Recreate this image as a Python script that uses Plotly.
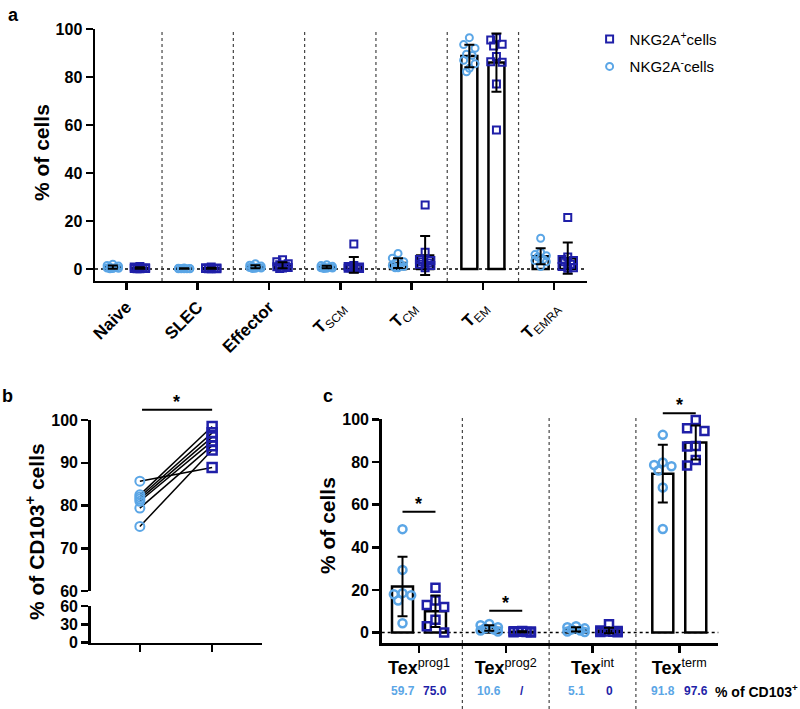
import numpy as np
import plotly.graph_objects as go

FONT = "Arial, Liberation Sans, sans-serif"
LIGHT = "#5ba6e6"
DARK = "#1f1fa8"

# ---------------- Panel a data ----------------
categories_a = ["Naive", "SLEC", "Effector", "TSCM", "TCM", "TEM", "TEMRA"]
ticktext_a = ["<b>Naive</b>", "<b>SLEC</b>", "<b>Effector</b>",
              "<b>T</b><sub>SCM</sub>", "<b>T</b><sub>CM</sub>",
              "<b>T</b><sub>EM</sub>", "<b>T</b><sub>EMRA</sub>"]
neg_naive = [2.0, 1.5, 1.2, 0.8, 0.6, 0.4, 0.3, 0.2, 0.1]
pos_naive = [1.0, 0.8, 0.5, 0.4, 0.3, 0.2, 0.2, 0.1, 0.1]
neg_slec = [0.4, 0.3, 0.2, 0.2, 0.1, 0.1, 0.1, 0.05, 0.05]
pos_slec = [0.8, 0.5, 0.4, 0.3, 0.2, 0.2, 0.1, 0.1, 0.05]
neg_effector = [2.2, 1.6, 1.2, 1.0, 0.8, 0.6, 0.4, 0.3, 0.2]
pos_effector = [3.8, 3.0, 2.2, 1.8, 1.2, 0.9, 0.6, 0.4, 0.2]
neg_tscm = [1.8, 1.4, 1.1, 0.9, 0.7, 0.5, 0.4, 0.3, 0.2]
pos_tscm = [10.4, 1.5, 1.0, 0.8, 0.5, 0.4, 0.3, 0.2, 0.1]
neg_tcm = [6.5, 4.5, 3.0, 2.5, 2.0, 1.5, 1.0, 0.5, 0.5]
pos_tcm = [26.7, 7.0, 4.0, 3.5, 3.0, 2.5, 2.0, 1.5, 0.5]
neg_tem = [96.4, 93.5, 92.0, 89.5, 89.0, 87.0, 85.5, 83.6, 82.2]
pos_tem = [96.4, 95.4, 93.6, 92.9, 88.5, 86.4, 86.1, 77.1, 57.9]
neg_temra = [12.8, 7.0, 6.0, 5.5, 5.0, 4.0, 3.5, 3.0, 1.0]
pos_temra = [21.4, 5.0, 4.0, 3.5, 3.0, 2.0, 1.0, 0.5, 0.3]
neg_a = [neg_naive, neg_slec, neg_effector, neg_tscm, neg_tcm, neg_tem, neg_temra]
pos_a = [pos_naive, pos_slec, pos_effector, pos_tscm, pos_tcm, pos_tem, pos_temra]

# ---------------- Panel b data ----------------
cd103_neg = [85.7, 82.5, 82.0, 81.5, 81.0, 79.4, 75.1]
cd103_pos = [88.9, 98.5, 97.0, 96.0, 95.0, 94.0, 93.0]

# ---------------- Panel c data ----------------
categories_c = ["prog1", "prog2", "int", "term"]
neg_prog1 = [48.5, 29.4, 18.5, 18.0, 17.5, 15.0, 4.4]
pos_prog1 = [21.0, 15.0, 13.0, 12.0, 6.0, 3.0, 0.0]
neg_prog2 = [4.0, 3.5, 2.5, 2.0, 1.5, 1.0, 0.5]
pos_prog2 = [0.8, 0.6, 0.5, 0.4, 0.3, 0.2, 0.1]
neg_int = [3.0, 2.5, 2.0, 1.5, 1.0, 0.5, 0.3]
pos_int = [3.9, 1.0, 0.8, 0.5, 0.4, 0.3, 0.2]
neg_term = [92.7, 79.8, 78.6, 78.0, 76.0, 68.0, 48.6]
pos_term = [99.7, 95.8, 94.5, 87.5, 87.2, 80.9, 78.3]
neg_c = [neg_prog1, neg_prog2, neg_int, neg_term]
pos_c = [pos_prog1, pos_prog2, pos_int, pos_term]
cd103_pct_neg = ["59.7", "10.6", "5.1", "91.8"]
cd103_pct_pos = ["75.0", "/", "0", "97.6"]
sig_c = ["prog1", "prog2", "term"]
sig_c_level = [56.7, 10.3, 102.8]
sig_b_level = 102.4

# axis geometry
Y_A_DOM, Y_A_RANGE = [0.6037, 0.9591], [-5, 100]
Y_B_UP_DOM, Y_B_UP_RANGE = [0.1664, 0.4076], [60, 100]
Y_C_DOM, Y_C_RANGE = [0.0927, 0.4086], [-5, 100]


def to_paper(v, dom, rng):
    return dom[0] + (v - rng[0]) / (rng[1] - rng[0]) * (dom[1] - dom[0])


def jitter(vals, w, thr):
    n = len(vals)
    order = sorted(range(n), key=lambda i: -vals[i])
    pattern = [0, -1, 1, -0.5, 0.5, -1, 1, 0, -0.5]
    offs = [0.0] * n
    k = 0
    prev = None
    for i in order:
        if prev is not None and abs(prev - vals[i]) > thr:
            k = 0
        offs[i] = pattern[k % len(pattern)] * w
        k += 1
        prev = vals[i]
    return offs


fig = go.Figure()


def add_group_panel(neg_list, pos_list, xa, ya, off, bw, jw, thr, msize, lw_m, legend):
    n = len(neg_list)
    for grp, color, sym, sign, name, rank in [
        (neg_list, LIGHT, "circle-open", -1, "NKG2A<sup>-</sup>cells", 2),
        (pos_list, DARK, "square-open", 1, "NKG2A<sup>+</sup>cells", 1),
    ]:
        centers = [i + sign * off for i in range(n)]
        means = [float(np.mean(g)) for g in grp]
        sds = [float(np.std(g, ddof=1)) for g in grp]
        fig.add_trace(go.Bar(x=centers, y=means, width=bw, xaxis=xa, yaxis=ya,
                             marker=dict(color="white", line=dict(color="black", width=2.5)),
                             showlegend=False, hoverinfo="skip"))
        px, py = [], []
        for c, g in zip(centers, grp):
            js = jitter(g, jw, thr)
            px += [c + j for j in js]
            py += list(g)
        fig.add_trace(go.Scatter(x=px, y=py, mode="markers", xaxis=xa, yaxis=ya,
                                 marker=dict(symbol=sym, size=msize, color=color,
                                             line=dict(width=lw_m, color=color)),
                                 cliponaxis=False, name=name,
                                 showlegend=legend, legendgroup=name, legendrank=rank,
                                 hoverinfo="skip"))
        fig.add_trace(go.Scatter(x=centers, y=means, mode="markers", xaxis=xa, yaxis=ya,
                                 marker=dict(size=1, color="rgba(0,0,0,0)"),
                                 error_y=dict(type="data", array=sds, visible=True,
                                              color="black", thickness=2, width=5),
                                 cliponaxis=False, showlegend=False, hoverinfo="skip"))


add_group_panel(neg_a, pos_a, "x", "y", 0.19, 0.224, 0.08, 3.0, 7, 2, True)
add_group_panel(neg_c, pos_c, "x4", "y4", 0.19, 0.242, 0.1, 4.0, 8, 2.5, False)

# Panel b paired lines
for a_, b_ in zip(cd103_neg, cd103_pos):
    fig.add_trace(go.Scatter(x=[0, 1], y=[a_, b_], mode="lines", xaxis="x3", yaxis="y3",
                             line=dict(color="black", width=1.5), showlegend=False,
                             hoverinfo="skip", cliponaxis=False))
fig.add_trace(go.Scatter(x=[0] * len(cd103_neg), y=cd103_neg, mode="markers", xaxis="x3", yaxis="y3",
                         marker=dict(symbol="circle-open", size=9, color=LIGHT, line=dict(width=2, color=LIGHT)),
                         showlegend=False, cliponaxis=False, hoverinfo="skip"))
fig.add_trace(go.Scatter(x=[1] * len(cd103_pos), y=cd103_pos, mode="markers", xaxis="x3", yaxis="y3",
                         marker=dict(symbol="square-open", size=9, color=DARK, line=dict(width=2.5, color=DARK)),
                         showlegend=False, cliponaxis=False, hoverinfo="skip"))
# empty trace so the broken lower segment of panel b is drawn
fig.add_trace(go.Scatter(x=[0, 1], y=[None, None], mode="markers", xaxis="x2", yaxis="y2",
                         showlegend=False, hoverinfo="skip"))

axis_common = dict(showgrid=False, zeroline=False, showline=True, linecolor="black", linewidth=2.5,
                   ticks="outside", ticklen=7, tickwidth=2.5, tickcolor="black", automargin=False)
ytick_font = dict(family=FONT, size=16, color="black", weight="bold")

fig.update_layout(
    template="none",
    width=800, height=709, autosize=False,
    margin=dict(l=0, r=0, t=0, b=0, pad=0),
    paper_bgcolor="white", plot_bgcolor="rgba(0,0,0,0)",
    barmode="overlay",
    font=dict(family=FONT, color="black"),
    xaxis=dict(domain=[0.11875, 0.73375], range=[-0.44, 6.46], anchor="y",
               tickmode="array", tickvals=list(range(len(categories_a))), ticktext=ticktext_a,
               tickangle=-45, tickfont=dict(family=FONT, size=17, color="black"), **axis_common),
    yaxis=dict(domain=Y_A_DOM, range=Y_A_RANGE, anchor="x",
               tickvals=[0, 20, 40, 60, 80, 100], tickfont=ytick_font, **axis_common),
    xaxis2=dict(domain=[0.1134, 0.3275], range=[-0.68, 1.69], anchor="y2",
                tickvals=[0, 1], ticktext=["", ""], **axis_common),
    yaxis2=dict(domain=[0.0935, 0.1453], range=[0, 60], anchor="x2",
                tickvals=[0, 30, 60], tickfont=ytick_font, **axis_common),
    xaxis3=dict(domain=[0.1134, 0.3275], range=[-0.68, 1.69], anchor="y3", visible=False),
    yaxis3=dict(domain=Y_B_UP_DOM, range=Y_B_UP_RANGE, anchor="x3",
                tickvals=[60, 70, 80, 90, 100], tickfont=ytick_font, **axis_common),
    xaxis4=dict(domain=[0.4771, 0.8979], range=[-0.43, 3.45], anchor="y4",
                tickvals=list(range(len(categories_c))),
                ticktext=["<b>Tex</b><sup>%s</sup>" % c for c in categories_c],
                tickfont=dict(family=FONT, size=18, color="black"), **axis_common),
    yaxis4=dict(domain=Y_C_DOM, range=Y_C_RANGE, anchor="x4",
                tickvals=[0, 20, 40, 60, 80, 100], tickfont=ytick_font, **axis_common),
    legend=dict(x=0.737, y=0.968, xanchor="left", yanchor="top",
                font=dict(family=FONT, size=15, color="black"), tracegroupgap=5,
                bgcolor="rgba(0,0,0,0)", borderwidth=0, itemwidth=30),
)

shapes = []
# panel a separators and zero line
for k in range(len(categories_a) - 1):
    shapes.append(dict(type="line", xref="x", yref="y", x0=k + 0.5, x1=k + 0.5, y0=-5, y1=102,
                       line=dict(color="#444", width=1.2, dash="dot"), layer="below"))
shapes.append(dict(type="line", xref="x domain", yref="y", x0=0, x1=1, y0=0, y1=0,
                   line=dict(color="black", width=1.5, dash="dot"), layer="below"))
# panel c separators and zero line
for k in range(len(categories_c) - 1):
    shapes.append(dict(type="line", xref="x4", yref="paper", x0=k + 0.5, x1=k + 0.5, y0=0,
                       y1=to_paper(102, Y_C_DOM, Y_C_RANGE),
                       line=dict(color="#444", width=1.2, dash="dot"), layer="below"))
shapes.append(dict(type="line", xref="x4 domain", yref="y4", x0=0, x1=1, y0=0, y1=0,
                   line=dict(color="black", width=1.5, dash="dot"), layer="below"))

annotations = []
star_font = dict(size=18, family=FONT, color="black")
# significance panel b
yb = to_paper(sig_b_level, Y_B_UP_DOM, Y_B_UP_RANGE)
shapes.append(dict(type="line", xref="x3", yref="paper", x0=0.03, x1=1.0, y0=yb, y1=yb,
                   line=dict(color="black", width=2)))
annotations.append(dict(xref="x3", yref="paper", x=0.5, y=yb, text="<b>*</b>", showarrow=False,
                        xanchor="center", yanchor="bottom", font=star_font, yshift=-4))
# significance panel c
for c, lev in zip(sig_c, sig_c_level):
    i = categories_c.index(c)
    yc = to_paper(lev, Y_C_DOM, Y_C_RANGE)
    shapes.append(dict(type="line", xref="x4", yref="paper", x0=i - 0.19, x1=i + 0.19,
                       y0=yc, y1=yc, line=dict(color="black", width=2)))
    annotations.append(dict(xref="x4", yref="paper", x=i, y=yc, text="<b>*</b>", showarrow=False,
                            xanchor="center", yanchor="bottom", font=star_font, yshift=-4))

# CD103 row under panel c
ROW_Y = 1 - 691 / 709
for i in range(len(categories_c)):
    annotations.append(dict(xref="x4", yref="paper", x=i - 0.19, y=ROW_Y, text="<b>%s</b>" % cd103_pct_neg[i],
                            xanchor="center", yanchor="middle",
                            showarrow=False, font=dict(size=12, family=FONT, color=LIGHT)))
    annotations.append(dict(xref="x4", yref="paper", x=i + 0.19, y=ROW_Y, text="<b>%s</b>" % cd103_pct_pos[i],
                            xanchor="center", yanchor="middle",
                            showarrow=False, font=dict(size=12, family=FONT, color=DARK)))
annotations.append(dict(xref="paper", yref="paper", x=1.0, xanchor="right", yanchor="middle", y=ROW_Y,
                        text="<b>% of CD103<sup>+</sup></b>",
                        showarrow=False, font=dict(size=14, family=FONT, color="black")))

# panel letters
for t, x, y in [("a", 13, 15), ("b", 7, 396), ("c", 328, 396)]:
    annotations.append(dict(xref="paper", yref="paper", x=x / 800, y=1 - y / 709, text="<b>%s</b>" % t,
                            xanchor="center", yanchor="middle",
                            showarrow=False, font=dict(size=18, family=FONT, color="black")))

# axis titles
for t, x, y in [("% of cells", 41, 153), ("% of CD103<sup>+</sup> cells", 35, 532), ("% of cells", 327, 526)]:
    annotations.append(dict(xref="paper", yref="paper", x=x / 800, y=1 - y / 709, text="<b>%s</b>" % t,
                            xanchor="center", yanchor="middle",
                            showarrow=False, textangle=-90, font=dict(size=21, family=FONT, color="black")))

fig.update_layout(shapes=shapes, annotations=annotations)
fig.write_html("out.html", config={"displayModeBar": False, "staticPlot": True},
               post_script="document.body.style.margin='0';document.body.style.overflow='hidden';")
